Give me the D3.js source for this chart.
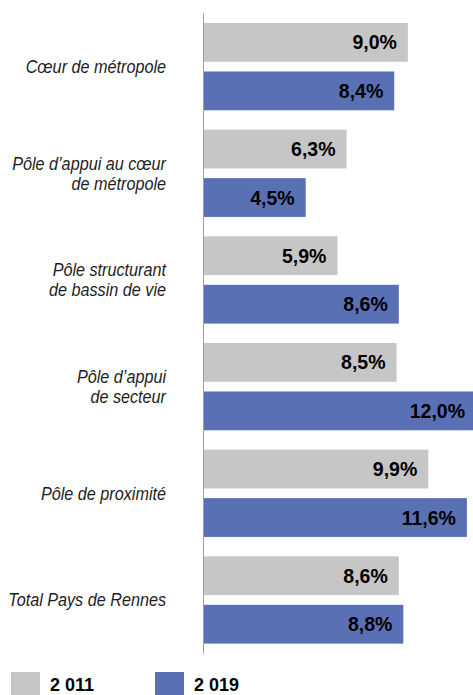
<!DOCTYPE html>
<html>
<head>
<meta charset="utf-8">
<script src="https://d3js.org/d3.v7.min.js"></script>
<style>
    body { margin: 0; background: #fff; }
    .cat { font-family: "Liberation Sans", Arial, sans-serif; font-style: italic; font-size: 18px; fill: #1e1e1e; }
    .val { font-family: "Liberation Sans", Arial, sans-serif; font-weight: bold; font-size: 19.5px; fill: #000; }
    .leg { font-family: "Liberation Sans", Arial, sans-serif; font-weight: bold; font-size: 18px; fill: #000; }
</style>
</head>
<body>
<svg width="473" height="695"></svg>
<script>
    // categories (lines of each label) and values in %
    var categories = [
        ["Cœur de métropole"],
        ["Pôle d’appui au cœur", "de métropole"],
        ["Pôle structurant", "de bassin de vie"],
        ["Pôle d’appui", "de secteur"],
        ["Pôle de proximité"],
        ["Total Pays de Rennes"]
    ];
    var series = ["2 011", "2 019"];
    var values2011 = [9.0, 6.3, 5.9, 8.5, 9.9, 8.6];
    var values2019 = [8.4, 4.5, 8.6, 12.0, 11.6, 8.8];
    var colors = ["#c6c6c6", "#5a70b4"];

    var data = categories.map(function (c, i) {
        return { i: i, label: c, vals: [values2011[i], values2019[i]] };
    });

    var svg = d3.select("svg");

    var x = d3.scaleLinear().domain([0, 12]).range([203.5, 476]);
    var y = d3.scaleBand().domain(d3.range(categories.length)).range([13.3, 653.3]);
    var ys = d3.scaleBand().domain([0, 1]).range([0, y.bandwidth()])
        .paddingInner(0.2).paddingOuter(0.2);

    var fmt = function (v) { return d3.format(".1f")(v).replace(".", ",") + "%"; };

    var g = svg.selectAll(".grp").data(data).enter().append("g")
        .attr("class", "grp")
        .attr("transform", function (d) { return "translate(0," + y(d.i) + ")"; });

    g.selectAll("rect").data(function (d) { return d.vals; }).enter().append("rect")
        .attr("x", x(0))
        .attr("y", function (v, j) { return ys(j); })
        .attr("width", function (v) { return x(v) - x(0); })
        .attr("height", ys.bandwidth())
        .attr("fill", function (v, j) { return colors[j]; });

    g.selectAll("text.val").data(function (d) { return d.vals; }).enter().append("text")
        .attr("class", "val")
        .attr("x", function (v) { return x(v) - 11; })
        .attr("y", function (v, j) { return ys(j) + ys.bandwidth() / 2 + 7; })
        .attr("text-anchor", "end")
        .text(fmt);

    // category labels (slightly condensed)
    var lh = 20;
    g.append("text")
        .attr("class", "cat")
        .attr("text-anchor", "end")
        .attr("transform", "translate(166," + (y.bandwidth() / 2) + ") scale(0.9,1)")
        .each(function (d) {
            var t = d3.select(this), n = d.label.length;
            d.label.forEach(function (line, k) {
                t.append("tspan")
                    .attr("x", 0)
                    .attr("y", (k - (n - 1) / 2) * lh + 6.3)
                    .text(line);
            });
        });

    // vertical axis line
    svg.append("line")
        .attr("x1", x(0)).attr("x2", x(0))
        .attr("y1", y.range()[0]).attr("y2", y.range()[1])
        .attr("stroke", "#a0a0a0")
        .attr("stroke-width", 1);

    // legend
    var legX = [11, 155];
    var leg = svg.selectAll(".legitem").data(series).enter().append("g")
        .attr("transform", function (d, i) { return "translate(" + legX[i] + ",672)"; });
    leg.append("rect").attr("width", 29).attr("height", 29)
        .attr("fill", function (d, i) { return colors[i]; });
    leg.append("text").attr("class", "leg")
        .attr("x", 39).attr("y", 18.5)
        .text(function (d) { return d; });
</script>
</body>
</html>
